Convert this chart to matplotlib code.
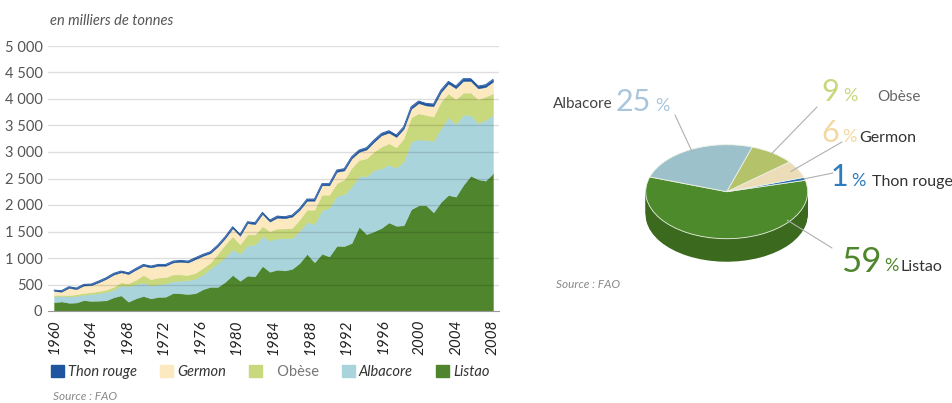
import numpy as np
import matplotlib
matplotlib.use('Agg')
import matplotlib.pyplot as plt
from matplotlib.patches import Patch

plt.rcParams['font.family'] = ['Lato', 'DejaVu Sans']

# catches in thousand tonnes, one value per point of the chart (60 points)
listao = [165, 180, 155, 160, 205, 190, 195, 200, 258, 295, 176, 239, 283, 239, 265,
          270, 340, 333, 321, 335, 410, 455, 455, 550, 680, 570, 668, 655, 850, 740,
          780, 765, 795, 905, 1078, 918, 1080, 1030, 1230, 1225, 1283, 1591, 1450, 1503, 1566,
          1670, 1607, 1617, 1920, 1994, 1994, 1862, 2057, 2189, 2157, 2377, 2553, 2484, 2459, 2597]
albacore = [110, 103, 117, 125, 100, 130, 140, 155, 142, 185, 294, 266, 257, 241, 240,
            250, 220, 242, 259, 275, 280, 345, 445, 470, 480, 510, 572, 595, 560, 590,
            590, 605, 580, 605, 602, 722, 820, 920, 940, 975, 1067, 956, 1090, 1157, 1126,
            1090, 1097, 1208, 1275, 1245, 1232, 1346, 1390, 1465, 1371, 1321, 1145, 1057, 1145, 1101]
obese = [25, 22, 28, 30, 35, 35, 40, 45, 55, 60, 50, 85, 140, 120, 125,
         120, 130, 115, 100, 110, 120, 112, 180, 236, 252, 176, 204, 194, 190, 176,
         186, 186, 194, 215, 232, 272, 294, 244, 242, 280, 350, 302, 341, 346, 409,
         404, 384, 433, 459, 491, 472, 459, 503, 453, 466, 422, 422, 453, 440, 409]
germon = [76, 59, 137, 97, 141, 132, 167, 205, 231, 190, 178, 190, 173, 223, 224,
          214, 226, 239, 236, 259, 231, 179, 137, 119, 151, 163, 214, 195, 232, 181,
          206, 194, 212, 182, 169, 169, 177, 177, 214, 172, 178, 154, 166, 184, 215,
          201, 195, 182, 161, 192, 180, 199, 178, 184, 209, 220, 220, 207, 182, 220]
thon_rouge = [20, 20, 22, 22, 22, 22, 24, 24, 25, 25, 25, 25, 26, 26, 26,
              26, 27, 27, 27, 27, 28, 28, 28, 28, 28, 28, 28, 28, 30, 30,
              30, 30, 30, 30, 32, 32, 32, 32, 34, 34, 34, 35, 35, 36, 36,
              38, 38, 38, 40, 40, 40, 40, 42, 42, 42, 44, 44, 44, 44, 44]

year_labels = list(range(1960, 2009, 4))

# pie: share of each species (%)
pie_names = ['Listao', 'Thon rouge', 'Germon', 'Obèse', 'Albacore']
pie_shares = [59, 1, 6, 9, 25]

c_listao = '#4f862d'
c_albacore = '#a9d4dc'
c_obese = '#c8d87c'
c_germon = '#fce9c0'
c_thon = '#1f55a0'

W, H = 953, 403


def px(x, y):
    return x / W, 1 - y / H


fig = plt.figure(figsize=(W / 100, H / 100), dpi=100)

# ---------------- area chart ----------------
ax = fig.add_axes([48 / W, 92 / H, 451 / W, 265 / H])
idx = np.arange(len(listao))
polys = ax.stackplot(idx, listao, albacore, obese, germon, thon_rouge,
                     colors=[c_listao, c_albacore, c_obese, c_germon, c_thon], lw=0.3)
for p in polys:
    p.set_edgecolor(p.get_facecolor())
total = np.sum([listao, albacore, obese, germon, thon_rouge], axis=0)
ax.plot(idx, total, color=c_thon, lw=0.6)

ax.set_xlim(-0.81, len(listao) - 1 + 0.81)
ax.set_ylim(0, 5000)
yt = list(range(0, 5001, 500))
ax.set_yticks(yt)
ax.set_yticklabels(['{:,}'.format(v).replace(',', ' ') for v in yt],
                   fontsize=10.5, color='#555555')
ax.set_xticks(np.linspace(0, len(listao) - 1, len(year_labels)))
ax.set_xticklabels([str(y) for y in year_labels], rotation=90, fontsize=11,
                   color='#222222', style='italic')
ax.tick_params(length=0)
ax.tick_params(axis='y', pad=4)
ax.tick_params(axis='x', pad=6)
for v in yt[1:]:
    ax.axhline(v, color='black', alpha=0.13, lw=1, zorder=3)
for s in ['top', 'right', 'left']:
    ax.spines[s].set_visible(False)
ax.spines['bottom'].set_color('#999999')
ax.spines['bottom'].set_zorder(4)

fig.text(*px(50, 21), 'en milliers de tonnes', fontsize=10.5, style='italic',
         color='#555555', va='center')

handles = [Patch(color=c_thon), Patch(color=c_germon), Patch(color=c_obese),
           Patch(color=c_albacore), Patch(color=c_listao)]
leg = fig.legend(handles, ['Thon rouge', 'Germon', '   Obèse', 'Albacore', 'Listao'],
                 loc='center left', bbox_to_anchor=px(51, 372), ncol=5, frameon=False,
                 fontsize=10.5, handlelength=0.9, handleheight=0.85, handletextpad=0.25,
                 columnspacing=1.6, borderpad=0, borderaxespad=0)
for t in leg.get_texts():
    t.set_style('italic')
    t.set_color('#333333')
leg.get_texts()[2].set_style('normal')
leg.get_texts()[2].set_color('#777777')
fig.text(*px(53, 396), 'Source : FAO', fontsize=8.5, style='italic', color='#888888',
         va='center')

# ---------------- 3D pie ----------------
pax = fig.add_axes([600 / W, 103 / H, 260 / W, 200 / H])
start = 161.7
side_cols = ['#3b6a1e', '#1b4a80', '#c9b98f', '#8f9c4e', '#7b9aa2']
top_cols = ['#4c8a2b', '#2a6fb5', '#ecdcb8', '#b4c36a', '#9dc1ca']
n_layers = 22
dz = 0.49 / n_layers
for k in range(n_layers, 0, -1):
    pax.pie(pie_shares, startangle=start, counterclock=True, center=(0, -k * dz),
            colors=side_cols, wedgeprops=dict(lw=0))
wedges, _ = pax.pie(pie_shares, startangle=start, counterclock=True, center=(0, 0),
                    colors=top_cols, wedgeprops=dict(lw=0.6, edgecolor='#eef2e8'))
pax.set_aspect('auto')
pax.set_xlim((600 - 726.7) / 81, (860 - 726.7) / 81)
pax.set_ylim((103 - 211.3) / 47, (303 - 211.3) / 47)
pax.axis('off')

# leader lines from labels to slices
line_ends = {'Albacore': (0.5, 0.95, (675, 115)),
             'Obèse': (0.5, 0.97, (817, 107)),
             'Germon': (0.5, 0.9, (842, 142)),
             'Thon rouge': (0.5, 0.99, (833, 173)),
             'Listao': (0.75, 0.96, (832, 248))}
for w, name in zip(wedges, pie_names):
    frac, r, (lx, ly) = line_ends[name]
    ang = np.deg2rad(w.theta1 + frac * (w.theta2 - w.theta1))
    pax.annotate('', xy=(r * np.cos(ang), r * np.sin(ang)), xycoords='data',
                 xytext=(lx, H - ly), textcoords='figure pixels',
                 arrowprops=dict(arrowstyle='-', color='#b0b0b0', lw=0.8,
                                 shrinkA=0, shrinkB=0))

# (x, y, text, size, colour, horizontal alignment)
labels = [
    (613, 104, 'Albacore', 11, '#444444', 'right'),
    (651, 102, '25', 22, '#a9c6dd', 'right'),
    (655, 106, '%', 13, '#a9c6dd', 'left'),
    (839, 92, '9', 22, '#c9d67c', 'right'),
    (843, 96, '%', 13, '#c9d67c', 'left'),
    (877, 97, 'Obèse', 11, '#666666', 'left'),
    (839, 133, '6', 22, '#f3d8a0', 'right'),
    (842, 137, '%', 13, '#f3d8a0', 'left'),
    (859, 138, 'Germon', 11.5, '#333333', 'left'),
    (848, 177, '1', 22, '#2c7cc0', 'right'),
    (851, 181, '%', 13, '#2c7cc0', 'left'),
    (872, 182, 'Thon rouge', 11.5, '#333333', 'left'),
    (881, 262, '59', 25, '#4f862d', 'right'),
    (884, 266, '%', 13, '#4f862d', 'left'),
    (901, 267, 'Listao', 11.5, '#333333', 'left'),
]
for x, y, s, fs, col, ha in labels:
    fig.text(*px(x, y), s, fontsize=fs, color=col, va='center', ha=ha)
fig.text(*px(556, 285), 'Source : FAO', fontsize=8.5, style='italic', color='#888888',
         va='center')

fig.savefig('out.png', dpi=100)
